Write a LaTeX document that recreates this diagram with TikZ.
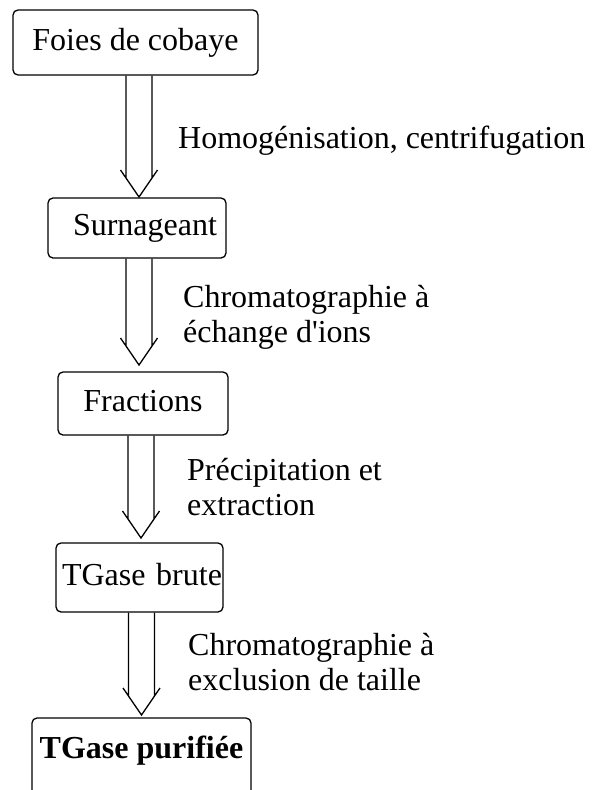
\documentclass[tikz,border=0pt]{standalone}
\usepackage{fontspec}
\setmainfont{Liberation Serif}
\usetikzlibrary{calc}

% hollow arrow: two shaft lines and an open head, from a box down to a tip
\newcommand{\flowarrow}[2]{%
  \draw[flowline] ($(#1.south -| #2)+(-13,0)$) -- ($(#2)+(-13,-19)$)
                  ($(#1.south -| #2)+(13,0)$)  -- ($(#2)+(13,-19)$)
                  ($(#2)+(-18.5,-27)$) -- (#2) -- ($(#2)+(18.5,-27)$);
}

\begin{document}
\begin{tikzpicture}[x=1pt, y=-1pt,
  every node/.style={font=\fontsize{32}{35}\selectfont},
  stepbox/.style={draw, line width=1.3pt, rounded corners=5pt, inner xsep=0pt,
                  inner ysep=0pt, text height=22pt, text depth=7pt},
  flowline/.style={line width=1.3pt},
  steplabel/.style={anchor=base west, align=left, inner sep=0pt}]
  \useasboundingbox (0,0) rectangle (594,790);
  \clip (0,0) rectangle (594,790);

  \node[stepbox, minimum width=245pt, minimum height=65pt] (foies)      at (135.5,42.5) {Foies de cobaye};
  \node[stepbox, minimum width=178pt, minimum height=60pt,
        text width=160pt, align=right, inner xsep=9pt]    (surnageant) at (137,228)    {Surnageant};
  \node[stepbox, minimum width=170pt, minimum height=63pt] (fractions)  at (143,403.5)  {Fractions};
  \node[stepbox, minimum width=167pt, minimum height=69pt,
        text width=165pt, align=right, inner xsep=1pt]    (brute)      at (139.5,577.5) {TGase brute};
  \node[stepbox, minimum width=219pt, minimum height=80pt, text depth=22pt,
        font=\fontsize{32}{35}\selectfont\bfseries]       (purifiee)   at (141.5,758)  {TGase purifiée};

  \coordinate (t1) at (139,197);
  \coordinate (t2) at (139,365);
  \coordinate (t3) at (141,538);
  \coordinate (t4) at (141.5,715);

  \flowarrow{foies}{t1}
  \flowarrow{surnageant}{t2}
  \flowarrow{fractions}{t3}
  \flowarrow{brute}{t4}

  % two-line labels sit on the baseline of their last line
  \node[steplabel] (homog)     at (178,148) {Homogénisation, centrifugation};
  \node[steplabel] (echange)   at (183,342) {Chromatographie à\\échange d\textquotesingle ions};
  \node[steplabel] (precip)    at (187,515) {Précipitation et\\extraction};
  \node[steplabel] (exclusion) at (188,690) {Chromatographie à\\exclusion de taille};
\end{tikzpicture}
\end{document}
